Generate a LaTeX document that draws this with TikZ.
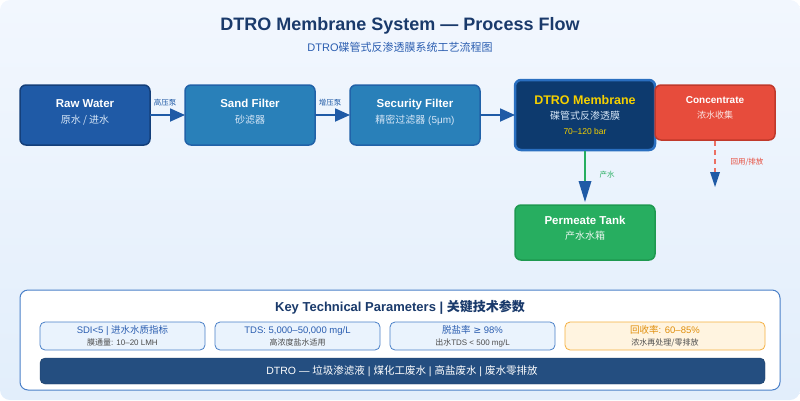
\documentclass[tikz,border=0pt]{standalone}
\usepackage{fontspec}
\setmainfont{Liberation Sans}
\newfontfamily\cjk{Noto Sans CJK SC}
\newfontfamily\dv{DejaVu Sans}
\usetikzlibrary{arrows.meta}
\definecolor{bgA}{HTML}{F2F7FE}\definecolor{bgB}{HTML}{E2EEFB}
\definecolor{navy}{HTML}{1A3A6B}\definecolor{sub}{HTML}{2A5DB0}
\definecolor{raw}{HTML}{1F5AA6}\definecolor{rawb}{HTML}{143F7A}
\definecolor{sand}{HTML}{2980B9}\definecolor{sandb}{HTML}{2162A8}
\definecolor{dtro}{HTML}{0D3A6E}\definecolor{dtrob}{HTML}{2A6FC0}
\definecolor{conc}{HTML}{E74C3C}\definecolor{concb}{HTML}{C0392B}
\definecolor{perm}{HTML}{27AE60}\definecolor{permb}{HTML}{1E9950}
\definecolor{pfill}{HTML}{EAF3FD}\definecolor{pbord}{HTML}{4A80C8}
\definecolor{ofill}{HTML}{FFF4E0}\definecolor{obord}{HTML}{F5B041}\definecolor{otext}{HTML}{E08E0B}
\definecolor{bar}{HTML}{244E80}\definecolor{yel}{HTML}{F5D000}
\definecolor{lt}{HTML}{D6E6F7}
\begin{document}
\begin{tikzpicture}[x=1pt,y=-1pt,
 box/.style={rounded corners=6pt,line width=1.5pt,inner sep=0pt},
 arr/.style={raw,line width=1.8pt,-{Triangle[length=15pt,width=13pt]}},
 lab/.style={font=\cjk\fontsize{7.5}{8}\selectfont},
 par/.style={rounded corners=5pt,line width=0.8pt,draw=pbord,fill=pfill}]
\useasboundingbox (0,0) rectangle (800,400);
\shade[top color=bgA,bottom color=bgB,rounded corners=10pt] (0,0) rectangle (800,400);
\node (title) at (400,26) {\fontsize{18}{20}\selectfont\bfseries\color{navy}DTRO Membrane System — Process Flow};
\node (subt) at (400,47) {\fontsize{11}{13}\selectfont\color{sub}DTRO{\cjk 碟管式反渗透膜系统工艺流程图}};
% boxes
\draw[box,fill=raw,draw=rawb] (20,85) rectangle (150,145);
\node[align=center,text=white] (raw) at (85,112) {\fontsize{11.5}{14}\selectfont\bfseries Raw Water\\[4pt]\fontsize{10}{13}\selectfont\mdseries\color{lt}\cjk 原水 / 进水};
\coordinate (rawE) at (150,115);
\draw[box,fill=sand,draw=sandb] (185,85) rectangle (315,145);
\node[align=center,text=white] (sand) at (250,112) {\fontsize{11.5}{14}\selectfont\bfseries Sand Filter\\[4pt]\fontsize{10}{13}\selectfont\mdseries\color{lt}\cjk 砂滤器};
\coordinate (sandW) at (185,115);\coordinate (sandE) at (315,115);
\draw[box,fill=sand,draw=sandb] (350,85) rectangle (480,145);
\node[align=center,text=white] (sec) at (415,112) {\fontsize{11.5}{14}\selectfont\bfseries Security Filter\\[4pt]\fontsize{10}{13}\selectfont\mdseries\color{lt}{\cjk 精密过滤器} (5μm)};
\coordinate (secW) at (350,115);\coordinate (secE) at (480,115);
\draw[box,fill=dtro,draw=dtrob,line width=2.5pt] (515,80) rectangle (655,150);
\node[align=center,text=white] (dtro) at (585,115) {\fontsize{12.5}{14}\selectfont\bfseries\color{yel}DTRO Membrane\\[3pt]\fontsize{10}{12}\selectfont\mdseries\color{lt}\cjk 碟管式反渗透膜\\[3pt]\fontsize{8.5}{10}\selectfont\color{yel}70–120 bar};
\coordinate (dtroW) at (515,115);\coordinate (dtroS) at (585,151);
\draw[box,fill=conc,draw=concb] (655,85) rectangle (775,140);
\node[align=center,text=white] (conc) at (715,108) {\fontsize{10}{13}\selectfont\bfseries Concentrate\\[3pt]\fontsize{9}{11}\selectfont\mdseries\color{white!85!conc}\cjk 浓水收集};
\coordinate (concS) at (715,141);
\draw[box,fill=perm,draw=permb] (515,205) rectangle (655,260);
\node[align=center,text=white] (perm) at (585,228) {\fontsize{11.5}{14}\selectfont\bfseries Permeate Tank\\[3pt]\fontsize{10}{12}\selectfont\mdseries\color{white!90!perm}\cjk 产水水箱};
\coordinate (permN) at (585,202);
\coordinate (concEnd) at (715,187);
% arrows
\draw[arr] (rawE) -- (sandW);
\draw[arr] (sandE) -- (secW);
\draw[arr] (secE) -- (dtroW);
\node[lab,text=raw] (l1) at (165,103) {高压泵};
\node[lab,text=raw] (l2) at (330,103) {增压泵};
\draw[perm,line width=1.3pt] (dtroS) -- (585,185);
\fill[raw] (578.5,181) -- (591.5,181) -- (permN) -- cycle;
\node[lab,text=perm] (l3) at (607,175) {产水};
\draw[conc!80,line width=1.3pt,dash pattern=on 5pt off 4pt] (concS) -- (715,172);
\fill[raw] (710,172) -- (720,172) -- (concEnd) -- cycle;
\node[lab,text=conc] (l4) at (747,162) {回用/排放};
% panel
\draw[rounded corners=8pt,fill=white,draw=pbord,line width=1pt] (20,290) rectangle (780,390);
\node (ptitle) at (400,307) {\fontsize{13}{15}\selectfont\bfseries\color{navy}Key Technical Parameters | {\cjk 关键技术参数}};
\newcommand{\pbox}[6]{\draw[par,#5] (#1,322) rectangle (#2,350);
 \node[align=center] (#6) at ({(#1+#2)/2},336) {\fontsize{9.5}{11}\selectfont#3\\[0pt]\fontsize{8}{10}\selectfont\color{black!70}#4};}
\pbox{40}{205}{\color{sub}SDI<5 | {\cjk 进水水质指标}}{{\cjk 膜通量}: 10–20 LMH}{}{p1}
\pbox{215}{380}{\color{sub}TDS: 5,000–50,000 mg/L}{\cjk 高浓度盐水适用}{}{p2}
\pbox{390}{555}{\color{sub}{\cjk 脱盐率} {\dv ≥} 98\%}{{\cjk 出水}TDS < 500 mg/L}{}{p3}
\pbox{565}{765}{\color{otext}{\cjk 回收率}: 60–85\%}{\cjk 浓水再处理/零排放}{draw=obord,fill=ofill}{p4}
\draw[rounded corners=5pt,fill=bar,draw=bar!80!black] (40,358) rectangle (765,384);
\node[text=white] (barT) at (402,371) {\fontsize{10.5}{12}\selectfont DTRO — {\cjk 垃圾渗滤液} | {\cjk 煤化工废水} | {\cjk 高盐废水} | {\cjk 废水零排放}};
\end{tikzpicture}
\end{document}
